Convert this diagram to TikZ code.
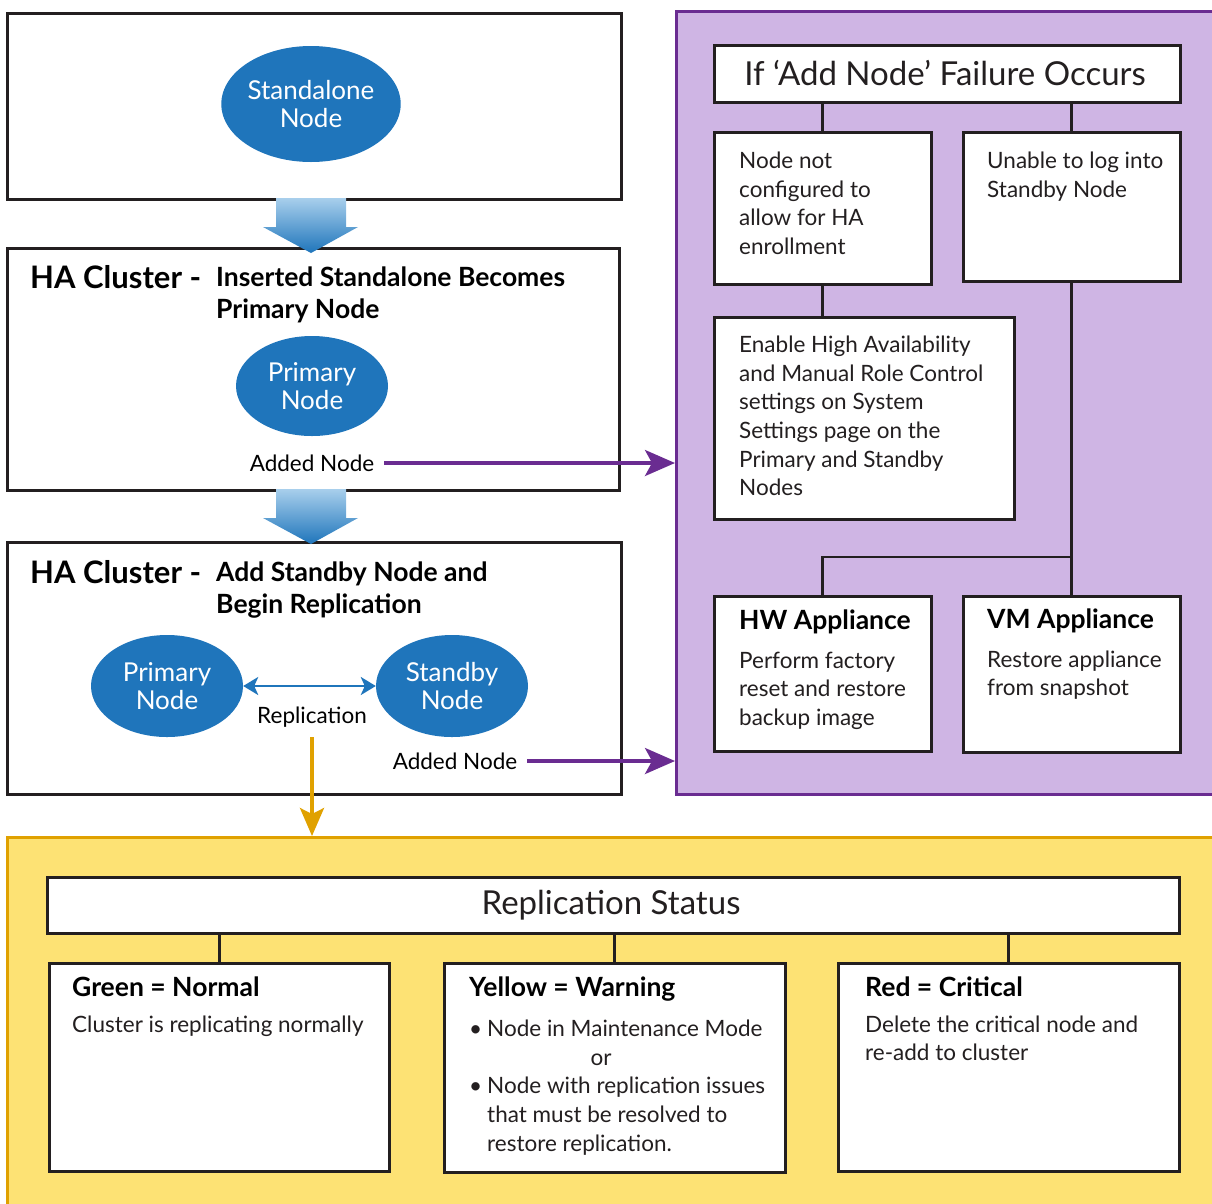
\documentclass[tikz,border=0pt]{standalone}
\usepackage{fontspec}
\setmainfont{Lato}
\usetikzlibrary{arrows.meta,positioning,shapes.geometric}
\definecolor{haBlue}{HTML}{1F75BB}
\definecolor{haSky}{HTML}{A8CFEC}
\definecolor{haPurple}{HTML}{6A2C91}
\definecolor{haLilac}{HTML}{CFB5E4}
\definecolor{haGold}{HTML}{E0A100}
\definecolor{haYellow}{HTML}{FDE274}
\definecolor{haInk}{HTML}{231F20}
\begin{document}
\begin{tikzpicture}[x=1pt,y=-1pt,
    panel/.style={draw,line width=2.5pt,anchor=north west,inner sep=0pt},
    frame/.style={draw=haInk,line width=2.7pt,fill=white,anchor=north west,inner sep=0pt},
    oval/.style={ellipse,fill=haBlue,text=white,align=center,inner sep=0pt,font=\fontsize{26}{28.5}\selectfont},
    body/.style={anchor=north west,align=left,inner sep=0pt,text=haInk,font=\fontsize{22.5}{28.6}\selectfont},
    head/.style={anchor=north west,inner sep=0pt,text=black,font=\fontsize{26.5}{30}\bfseries\selectfont},
    title/.style={inner sep=0pt,text=haInk,font=\fontsize{33}{36}\selectfont},
    link/.style={draw=haInk,line width=2.8pt},
    addarrow/.style={draw=haPurple,line width=3.5pt,-{Stealth[length=30pt,width=26pt,inset=7pt]}},
    bigarrow/.style={top color=haSky,bottom color=haBlue}]
  \useasboundingbox (0,0) rectangle (1212,1203);

  % coloured panels
  \node[panel,draw=haPurple,fill=haLilac,minimum width=545pt,minimum height=783pt] (failpanel) at (675,10) {};
  \node[panel,draw=haGold,fill=haYellow,minimum width=1212pt,minimum height=375pt] (statuspanel) at (6,836) {};

  % left column
  \node[frame,minimum width=614pt,minimum height=186pt] (single) at (6,12) {};
  \node[oval,minimum width=176pt,minimum height=116pt] (standalone) at (311,104) {Standalone\\Node};

  \node[frame,minimum width=612pt,minimum height=242pt] (clusterA) at (6,247) {};
  \node[anchor=base west,inner sep=0pt,font=\fontsize{31}{34}\bfseries\selectfont] (haA) at (30,288) {HA Cluster -};
  \node[anchor=north west,align=left,inner sep=0pt,font=\fontsize{26.5}{31.5}\bfseries\selectfont] (subA) at (216,267) {Inserted Standalone Becomes\\Primary Node};
  \node[oval,minimum width=152pt,minimum height=100pt] (primA) at (312,386) {Primary\\Node};
  \node[inner sep=0pt,font=\fontsize{22.5}{26}\selectfont] (added1) at (312,463) {Added Node};

  \node[frame,minimum width=614pt,minimum height=252pt] (clusterB) at (6,541) {};
  \node[anchor=base west,inner sep=0pt,font=\fontsize{31}{34}\bfseries\selectfont] (haB) at (30,583) {HA Cluster -};
  \node[anchor=north west,align=left,inner sep=0pt,font=\fontsize{26.5}{31.5}\bfseries\selectfont] (subB) at (216,562) {Add Standby Node and\\Begin Replication};
  \node[oval,minimum width=152pt,minimum height=102pt] (primB) at (167,686) {Primary\\Node};
  \node[oval,minimum width=152pt,minimum height=102pt] (standB) at (452,686) {Standby\\Node};
  \node[inner sep=0pt,font=\fontsize{22.5}{26}\selectfont] (repl) at (312,717) {Replication};
  \node[inner sep=0pt,font=\fontsize{22.5}{26}\selectfont] (added2) at (455,761) {Added Node};

  % block arrows between the cluster stages
  \foreach \t in {198,489}
    \shade[bigarrow] (276,\t) -- (346,\t) -- (346,\t+29) -- (358,\t+29) -- (311,\t+55) -- (263,\t+29) -- (276,\t+29) -- cycle;

  \draw[haBlue,line width=2.5pt,{Stealth[length=15pt,width=18pt,inset=4pt]}-{Stealth[length=15pt,width=18pt,inset=4pt]}] (primB.east) -- (standB.west);
  \draw[haGold,line width=3.5pt,-{Stealth[length=28pt,width=24pt,inset=6pt]},shorten <=10pt] (repl.south) -- (repl.south |- statuspanel.north);
  \draw[addarrow,shorten <=10pt] (added1.east) -- (added1.east -| failpanel.west);
  \draw[addarrow,shorten <=10pt] (added2.east) -- (added2.east -| failpanel.west);

  % failure panel
  \node[frame,minimum width=466pt,minimum height=57pt] (failtitle) at (713,44) {};
  \node[title] (failtext) at (945,73) {If ‘Add Node’ Failure Occurs};
  \node[frame,minimum width=217pt,minimum height=152pt] (boxA) at (713,131) {};
  \node[body] (textA) at (739,152) {Node not\\configured to\\allow for HA\\enrollment};
  \node[frame,minimum width=217pt,minimum height=149pt] (boxB) at (962,131) {};
  \node[body] (textB) at (987,152) {Unable to log into\\Standby Node};
  \node[frame,minimum width=300pt,minimum height=202pt] (boxC) at (713,316) {};
  \node[body] (textC) at (739,336) {Enable High Availability\\and Manual Role Control\\settings on System\\Settings page on the\\Primary and Standby\\Nodes};
  \node[frame,minimum width=217pt,minimum height=155pt] (hwbox) at (713,595) {};
  \node[head] (hwhead) at (739,610) {HW Appliance};
  \node[body,below right=17pt and 0pt of hwhead.south west] (hwtext) {Perform factory\\reset and restore\\backup image};
  \node[frame,minimum width=217pt,minimum height=156pt] (vmbox) at (962,595) {};
  \node[head] (vmhead) at (987,609) {VM Appliance};
  \node[body,below right=17pt and 0pt of vmhead.south west] (vmtext) {Restore appliance\\from snapshot};

  \draw[link] (boxA.north) -- (boxA.north |- failtitle.south);
  \draw[link] (boxB.north) -- (boxB.north |- failtitle.south);
  \draw[link] (boxA.south) -- (boxA.south |- boxC.north);
  \draw[link] (boxB.south) -- (vmbox.north);
  \coordinate (fork) at (vmbox.north |- 0,557);
  \draw[link] (hwbox.north) |- (fork);

  % replication status
  \node[frame,minimum width=1132pt,minimum height=56pt] (statusbar) at (46,876) {};
  \node[title] (statustext) at (611,905) {Replication Status};
  \node[frame,minimum width=340pt,minimum height=208pt] (greenbox) at (48,962) {};
  \node[head] (greenhead) at (72,977) {Green = Normal};
  \node[body,below right=18pt and 0pt of greenhead.south west] (greentext) {Cluster is replicating normally};
  \node[frame,minimum width=341pt,minimum height=209pt] (yellowbox) at (443,962) {};
  \node[head] (yellowhead) at (469,977) {Yellow = Warning};
  \node[body,below right=18pt and 0pt of yellowhead.south west] (yellowtext)
    {\makebox[18pt][l]{\textbullet}Node in Maintenance Mode\\
     \makebox[264pt]{or}\\
     \makebox[18pt][l]{\textbullet}Node with replication issues\\
     \hspace*{18pt}that must be resolved to\\
     \hspace*{18pt}restore replication.};
  \node[frame,minimum width=341pt,minimum height=208pt] (redbox) at (837,962) {};
  \node[head] (redhead) at (865,977) {Red = Critical};
  \node[body,below right=18pt and 0pt of redhead.south west] (redtext) {Delete the critical node and\\re-add to cluster};

  \foreach \b in {greenbox,yellowbox,redbox}
    \draw[link] (\b.north) -- (\b.north |- statusbar.south);
\end{tikzpicture}
\end{document}
